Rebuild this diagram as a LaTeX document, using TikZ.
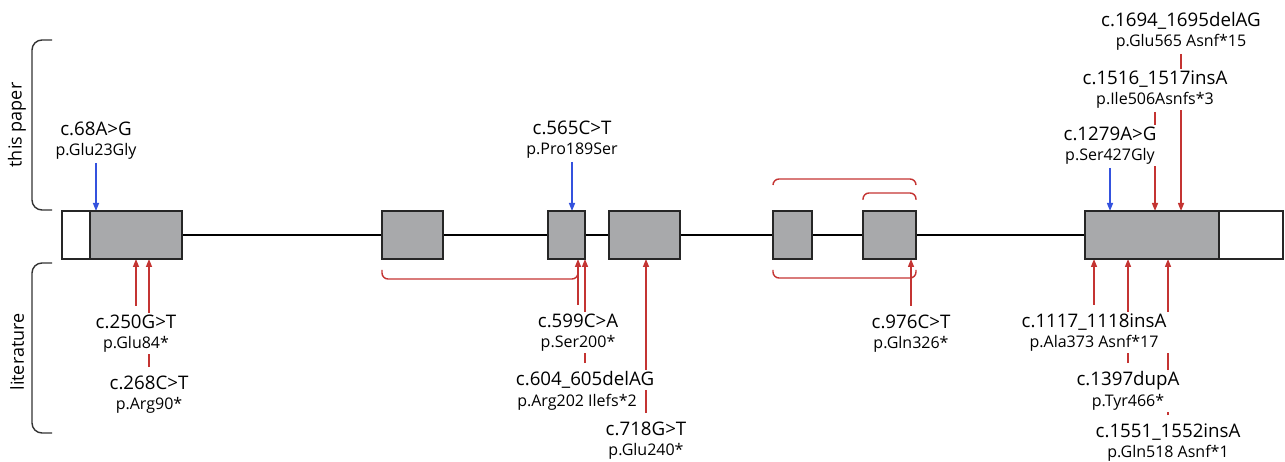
\documentclass[tikz,border=0pt]{standalone}
\usepackage{fontspec}
\setmainfont{Open Sans}
\usetikzlibrary{arrows.meta,backgrounds,calc}

\definecolor{exongray}{RGB}{168,169,171}
\definecolor{mutred}{RGB}{196,52,50}
\definecolor{mutblue}{RGB}{52,82,222}

\newcommand{\cmut}{\fontsize{18.7}{20.5}\selectfont}
\newcommand{\pmut}{\fontsize{16}{18}\selectfont}

\tikzset{
  exon/.style={draw=black!85, fill=exongray, line width=1.6pt,
    minimum height=48pt, inner sep=0pt, outer sep=0pt},
  utr/.style={exon, fill=white},
  mutlabel/.style={fill=white, align=center, inner xsep=4pt, inner ysep=1.5pt,
    outer sep=0pt, font=\cmut},
  hit/.style={line width=1.4pt, -{Triangle[length=8pt,width=6pt]}},
  lit/.style={hit, mutred},
  own/.style={hit, mutblue},
  drop/.style={shorten <=2pt},
  rise/.style={shorten <=7pt},
  exskip/.style={line width=1.4pt, mutred, rounded corners=6pt},
  sidebrace/.style={line width=1.4pt, black!80, rounded corners=10pt},
  sidelabel/.style={rotate=90, font=\fontsize{18}{20}\selectfont},
}

\begin{document}
\begin{tikzpicture}[x=1pt,y=-1pt]
\useasboundingbox (0,0) rectangle (1285,462);

\node[utr, minimum width=28pt] (utr5) at (76,235) {};
\node[exon, minimum width=92pt] (e1) at (136,235) {};
\node[exon, minimum width=61pt] (e2) at (412.5,235) {};
\node[exon, minimum width=37pt] (e3) at (566.5,235) {};
\node[exon, minimum width=71pt] (e4) at (644.5,235) {};
\node[exon, minimum width=39pt] (e5) at (792.5,235) {};
\node[exon, minimum width=53pt] (e6) at (889.5,235) {};
\node[exon, minimum width=134pt] (e7) at (1152,235) {};
\node[utr, minimum width=64pt] (utr3) at (1251,235) {};

\node[mutlabel, anchor=south] (c68) at (96,161) {c.68A>G\\{\pmut p.Glu23Gly}};
\node[mutlabel, anchor=south] (c565) at (572,160) {c.565C>T\\{\pmut p.Pro189Ser}};
\node[mutlabel, anchor=south] (c1279) at (1110,166) {c.1279A>G\\{\pmut p.Ser427Gly}};
\node[mutlabel, anchor=south] (c1516) at (1155,110) {c.1516\_1517insA\\{\pmut p.Ile506Asnfs*3}};
\node[mutlabel, anchor=south] (c1694) at (1181,52) {c.1694\_1695delAG\\{\pmut p.Glu565 Asnf*15}};

\node[mutlabel, anchor=north] (c250) at (136,313) {c.250G>T\\{\pmut p.Glu84*}};
\node[mutlabel, anchor=north] (c268) at (149,374) {c.268C>T\\{\pmut p.Arg90*}};
\node[mutlabel, anchor=north] (c599) at (578,312) {c.599C>A\\{\pmut p.Ser200*}};
\node[mutlabel, anchor=north] (c604) at (585,370) {c.604\_605delAG};
\node[mutlabel, anchor=base, font=\pmut] (p604) at ($(c604.base)+(-8,20.5)$) {p.Arg202 Ilefs*2};
\node[mutlabel, anchor=north] (c718) at (646,420) {c.718G>T\\{\pmut p.Glu240*}};
\node[mutlabel, anchor=north] (c976) at (911,313) {c.976C>T\\{\pmut p.Gln326*}};
\node[mutlabel, anchor=north] (c1117) at (1094,312) {c.1117\_1118insA\\{\pmut p.Ala373 Asnf*17}};
\node[mutlabel, anchor=north] (c1397) at (1128,370) {c.1397dupA\\{\pmut p.Tyr466*}};
\node[mutlabel, anchor=north] (c1551) at (1168,422) {c.1551\_1552insA\\{\pmut p.Gln518 Asnf*1}};

\begin{scope}[on background layer]
\draw[line width=2.8pt] (e1.east) -- (e7.west);
\draw[own, drop] (c68.south) -- (c68.south |- e1.north);
\draw[own, drop] (c565.south) -- (c565.south |- e3.north);
\draw[own, drop] (c1279.south) -- (c1279.south |- e7.north);
\draw[lit, drop] (c1516.south) -- (c1516.south |- e7.north);
\draw[lit, drop] (c1694.south) -- (c1694.south |- e7.north);
\draw[lit, rise] (c250.north) -- (c250.north |- e1.south);
\draw[lit, rise] (c268.north) -- (c268.north |- e1.south);
\draw[lit, rise] (c599.north) -- (c599.north |- e3.south);
\draw[lit, rise] (c604.north) -- (c604.north |- e3.south);
\draw[lit, rise] (c718.north) -- (c718.north |- e4.south);
\draw[lit, rise] (c976.north) -- (c976.north |- e6.south);
\draw[lit, rise] (c1117.north) -- (c1117.north |- e7.south);
\draw[lit, rise] (c1397.north) -- (c1397.north |- e7.south);
\draw[lit, rise] (c1551.north) -- (c1551.north |- e7.south);
\end{scope}

\draw[exskip] ($(e2.south west)+(0,11)$) |- ($(c599.north |- e2.south)+(0,20)$)
  -- ($(c599.north |- e2.south)+(0,11)$);
\draw[exskip] ($(e5.north west)+(0,-26)$) |- ($(e6.north east)+(0,-32)$)
  -- ($(e6.north east)+(0,-26)$);
\draw[exskip] ($(e6.north west)+(0,-11)$) |- ($(e6.north east)+(0,-18)$)
  -- ($(e6.north east)+(0,-11)$);
\draw[exskip] ($(e5.south west)+(0,11)$) |- ($(e6.south east)+(0,19)$)
  -- ($(e6.south east)+(0,11)$);

\draw[sidebrace] (52,40) -- (32,40) -- (32,210) -- (52,210);
\node[sidelabel] (paper) at (17,125) {this paper};
\draw[sidebrace] (52,263) -- (32,263) -- (32,433) -- (52,433);
\node[sidelabel] (lit) at (17,352) {literature};
\end{tikzpicture}
\end{document}
